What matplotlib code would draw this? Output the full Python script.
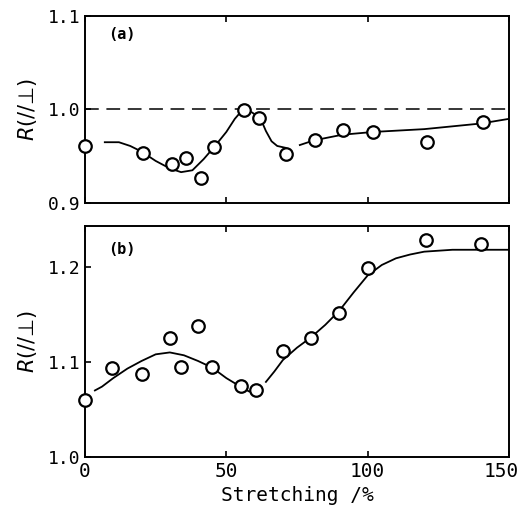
import matplotlib
matplotlib.use("Agg")
import matplotlib.pyplot as plt
from matplotlib.transforms import ScaledTranslation

# ---- data ----
a_x = [0, 20.6, 30.9, 35.7, 41, 45.7, 56.4, 61.7, 71.1, 81.4, 91.1, 101.8, 121.1, 140.9]
a_y = [0.961, 0.954, 0.942, 0.948, 0.927, 0.960, 0.999, 0.991, 0.952, 0.967, 0.978, 0.976, 0.965, 0.987]

a_fit_x = [7, 12, 16, 20, 25, 30, 34, 38, 42, 46, 50, 53, 55, 57, 59, 62, 64, 66, 68, 71]
a_fit_y = [0.965, 0.965, 0.961, 0.955, 0.945, 0.937, 0.933, 0.935, 0.947, 0.961, 0.976, 0.990, 0.997, 0.999, 0.997, 0.991, 0.977, 0.966, 0.961, 0.959]
a_fit2_x = [76, 81, 91, 102, 120, 140, 150]
a_fit2_y = [0.962, 0.967, 0.973, 0.976, 0.979, 0.985, 0.990]

b_x = [0, 9.7, 20, 30.1, 34, 39.9, 44.8, 55.2, 60.5, 69.9, 79.8, 90, 100.2, 120.6, 140.1]
b_y = [1.060, 1.094, 1.087, 1.125, 1.095, 1.138, 1.095, 1.075, 1.071, 1.112, 1.125, 1.152, 1.199, 1.228, 1.224]

b_fit_x = [3.5, 6, 10, 15, 20, 25, 30, 35, 40, 45, 50, 55, 58, 60]
b_fit_y = [1.070, 1.074, 1.083, 1.093, 1.101, 1.108, 1.110, 1.107, 1.101, 1.094, 1.083, 1.074, 1.069, 1.068]
b_fit2_x = [64, 67, 70, 75, 80, 85, 90, 95, 100, 105, 110, 115, 120, 130, 140, 150]
b_fit2_y = [1.079, 1.090, 1.102, 1.115, 1.126, 1.139, 1.154, 1.173, 1.191, 1.202, 1.209, 1.213, 1.216, 1.218, 1.218, 1.218]

xticks = [0, 50, 100, 150]
a_yticks = [0.9, 1.0, 1.1]
b_yticks = [1.0, 1.1, 1.2]

mono = "DejaVu Sans Mono"
fig = plt.figure(figsize=(5.23, 5.15), dpi=100)
W, H = 523, 515
ax1 = fig.add_axes([85 / W, 1 - 203 / H, (509 - 85) / W, (203 - 16) / H])
ax2 = fig.add_axes([85 / W, 1 - 457 / H, (509 - 85) / W, (457 - 226) / H])

for ax in (ax1, ax2):
    ax.set_xlim(0, 150)
    ax.set_xticks(xticks)
    ax.tick_params(direction="in", length=4, width=1.2, labelsize=13, top=True, right=False)
    for s in ax.spines.values():
        s.set_linewidth(1.4)

mk = dict(marker="o", ms=9, mfc="white", mec="black", mew=1.6, ls="none", zorder=3)

# panel (a)
ax1.axhline(1.0, color="black", lw=1.1, dashes=(9, 5), zorder=1)
ax1.plot(a_fit_x, a_fit_y, color="black", lw=1.3, zorder=2)
ax1.plot(a_fit2_x, a_fit2_y, color="black", lw=1.3, zorder=2)
ax1.plot(a_x, a_y, clip_on=False, **mk)
ax1.set_ylim(0.9, 1.1)
ax1.set_yticks(a_yticks)
ax1.set_yticklabels([f"{v:.1f}" for v in a_yticks], fontfamily=mono, fontsize=13)
ax1.set_xticklabels([])
ax1.text(0.055, 0.9, "(a)", transform=ax1.transAxes, fontfamily=mono, fontsize=11,
         fontweight="bold", va="center")
ax1.set_ylabel(r"$R$(//⊥)", fontsize=15, labelpad=6)

# panel (b)
ax2.plot(b_fit_x, b_fit_y, color="black", lw=1.3, zorder=2)
ax2.plot(b_fit2_x, b_fit2_y, color="black", lw=1.3, zorder=2)
ax2.plot(b_x, b_y, clip_on=False, **mk)
ax2.set_ylim(1.0, 1.243)
ax2.set_yticks(b_yticks)
ax2.set_yticklabels([f"{v:.1f}" for v in b_yticks], fontfamily=mono, fontsize=13)
ax2.set_xticklabels([str(v) for v in xticks], fontfamily=mono, fontsize=14)
last = ax2.get_xticklabels()[-1]
last.set_transform(last.get_transform() + ScaledTranslation(-0.08, 0, fig.dpi_scale_trans))
ax2.text(0.055, 0.9, "(b)", transform=ax2.transAxes, fontfamily=mono, fontsize=11,
         fontweight="bold", va="center")
ax2.set_ylabel(r"$R$(//⊥)", fontsize=15, labelpad=6)
ax2.set_xlabel("Stretching /%", fontfamily=mono, fontsize=14, labelpad=4)

fig.savefig("out.png", dpi=100)
